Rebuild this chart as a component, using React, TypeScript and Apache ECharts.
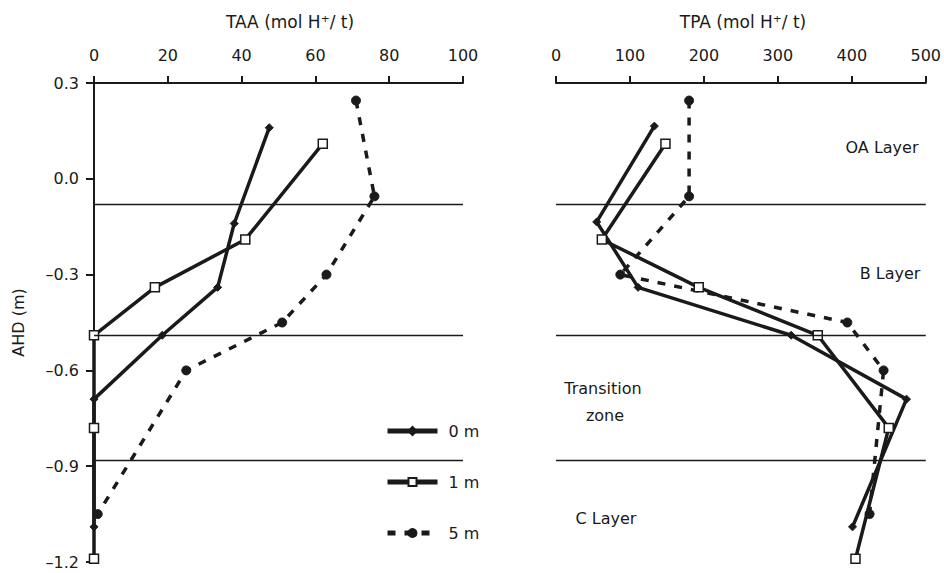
import React, { useEffect, useRef } from "react";
import * as echarts from "echarts";

// ---- data ----
const seriesNames = ["0 m", "1 m", "5 m"];

// TAA (mol H+/t) vs AHD (m)
const taa0m = [[47.5, 0.16], [38, -0.14], [33.5, -0.34], [18.5, -0.49], [0, -0.69], [0, -1.09]];
const taa1m = [[62, 0.11], [41, -0.19], [16.5, -0.34], [0, -0.49], [0, -0.78], [0, -1.19]];
const taa5m = [[71, 0.245], [76, -0.055], [63, -0.3], [51, -0.45], [25, -0.6], [1, -1.05]];

// TPA (mol H+/t) vs AHD (m)
const tpa0m = [[133, 0.165], [55, -0.135], [111, -0.34], [318, -0.49], [474, -0.69], [401, -1.09]];
const tpa1m = [[148, 0.11], [62, -0.19], [193, -0.34], [354, -0.49], [450, -0.78], [405, -1.19]];
const tpa5m = [[180, 0.245], [180, -0.055], [87, -0.3], [394, -0.45], [443, -0.6], [424, -1.05]];

// layer boundaries (AHD, m)
const layerBoundaries = [-0.082, -0.49, -0.879];

const layerLabels = ["OA Layer", "B Layer", "Transition", "zone", "C Layer"];
const panelTitles = ["TAA (mol H\u207A/ t)", "TPA (mol H\u207A/ t)"];

const FONT = "DejaVu Sans";
const INK = "#1a1a1a";

function fmtY(v: number) {
  const r = Math.round(v * 10) / 10;
  if (r === 0) return "0.0";
  return r < 0 ? "\u2013" + Math.abs(r).toFixed(1) : r.toFixed(1);
}

export default function App() {
  const ref = useRef<HTMLDivElement>(null);

  useEffect(() => {
    if (!ref.current) return;
    const chart = echarts.init(ref.current, undefined, { renderer: "svg" });

    const styleFor = (i: number) => {
      if (i === 0)
        return {
          symbol: "diamond",
          symbolSize: 8,
          itemStyle: { color: INK, borderColor: INK, borderWidth: 1 },
          lineStyle: { color: INK, width: 3.5, type: "solid" as const },
        };
      if (i === 1)
        return {
          symbol: "rect",
          symbolSize: 9,
          itemStyle: { color: "#ffffff", borderColor: INK, borderWidth: 1.5 },
          lineStyle: { color: INK, width: 3.5, type: "solid" as const },
        };
      return {
        symbol: "circle",
        symbolSize: 9,
        itemStyle: { color: INK, borderColor: INK, borderWidth: 1 },
        lineStyle: { color: INK, width: 3.5, type: [8, 9] as any },
      };
    };

    const boundaryMark = {
      silent: true,
      symbol: "none",
      label: { show: false },
      lineStyle: { color: INK, width: 1.3, type: "solid" },
      data: layerBoundaries.map((v) => ({ yAxis: v })),
    };

    const taaSets = [taa0m, taa1m, taa5m];
    const tpaSets = [tpa0m, tpa1m, tpa5m];

    const series: any[] = [];
    taaSets.forEach((d, i) => {
      series.push({
        type: "line",
        name: seriesNames[i],
        xAxisIndex: 0,
        yAxisIndex: 0,
        data: d,
        showAllSymbol: true,
        z: 3,
        ...styleFor(i),
        ...(i === 0 ? { markLine: boundaryMark } : {}),
      });
    });
    tpaSets.forEach((d, i) => {
      series.push({
        type: "line",
        name: seriesNames[i],
        xAxisIndex: 1,
        yAxisIndex: 1,
        data: d,
        showAllSymbol: true,
        z: 3,
        ...styleFor(i),
        ...(i === 0 ? { markLine: boundaryMark } : {}),
      });
    });

    const xAxisCommon = {
      type: "value",
      position: "top",
      axisLine: { show: true, onZero: false, lineStyle: { color: INK, width: 2 } },
      axisTick: { show: true, inside: false, length: 7, lineStyle: { color: INK, width: 2 } },
      axisLabel: { color: INK, fontFamily: FONT, fontSize: 16, margin: 20 },
      splitLine: { show: false },
    };

    chart.setOption({
      animation: false,
      backgroundColor: "#ffffff",
      textStyle: { fontFamily: FONT },
      grid: [
        { left: 94, top: 83, width: 369, height: 479 },
        { left: 556, top: 83, width: 373, height: 479 },
      ],
      xAxis: [
        { ...xAxisCommon, gridIndex: 0, min: 0, max: 100, interval: 20 },
        { ...xAxisCommon, gridIndex: 1, min: 0, max: 500, interval: 100 },
      ],
      yAxis: [
        {
          type: "value",
          gridIndex: 0,
          min: -1.2,
          max: 0.3,
          interval: 0.3,
          name: "AHD (m)",
          nameLocation: "middle",
          nameRotate: 90,
          nameGap: 68,
          nameTextStyle: { color: INK, fontFamily: FONT, fontSize: 16 },
          axisLine: { show: true, onZero: false, lineStyle: { color: INK, width: 2 } },
          axisTick: { show: true, length: 8, lineStyle: { color: INK, width: 2 } },
          axisLabel: { color: INK, fontFamily: FONT, fontSize: 16, margin: 15, formatter: fmtY },
          splitLine: { show: false },
        },
        {
          type: "value",
          gridIndex: 1,
          min: -1.2,
          max: 0.3,
          interval: 0.3,
          axisLine: { show: false },
          axisTick: { show: false },
          axisLabel: { show: false },
          splitLine: { show: false },
        },
      ],
      legend: {
        data: seriesNames,
        orient: "vertical",
        left: 380,
        top: 418,
        itemWidth: 50,
        itemHeight: 10,
        itemGap: 35,
        lineStyle: { width: 5 },
        textStyle: { color: INK, fontFamily: FONT, fontSize: 16, padding: [0, 0, 0, 6] },
      },
      graphic: [
        ...[
          [290, 22],
          [743, 22],
        ].map((p, i) => ({
          type: "text",
          x: p[0],
          y: p[1],
          style: {
            text: panelTitles[i],
            font: `17px "${FONT}"`,
            fill: INK,
            textAlign: "center",
            textVerticalAlign: "middle",
          },
        })),
        ...[
          [882, 147],
          [890, 273],
          [603, 388],
          [605, 415],
          [606, 518],
        ].map((p, i) => ({
          type: "text",
          x: p[0],
          y: p[1],
          style: {
            text: layerLabels[i],
            font: `16px "${FONT}"`,
            fill: INK,
            textAlign: "center",
            textVerticalAlign: "middle",
          },
        })),
      ],
      series,
    });

    return () => chart.dispose();
  }, []);

  return (
    <div
      ref={ref}
      style={{ position: "fixed", left: 0, top: 0, width: 944, height: 573, background: "#fff" }}
    />
  );
}
